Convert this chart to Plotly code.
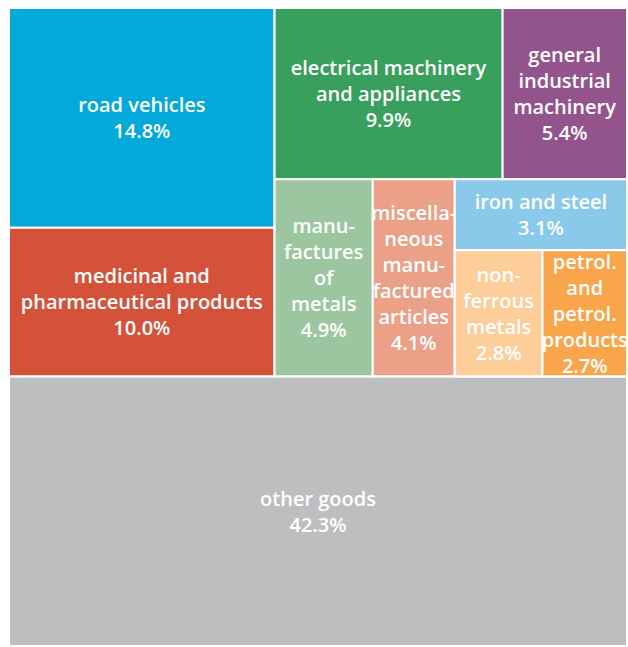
import plotly.graph_objects as go

# hierarchy (intermediate groups only shape the layout)
ids = ["all", "top", "other", "left", "right", "road", "med", "rtop", "rbot",
       "elec", "gen", "manu", "misc", "small", "iron", "lower", "nonf", "petrol"]
parents = ["", "all", "all", "top", "top", "left", "left", "right", "right",
           "rtop", "rtop", "rbot", "rbot", "rbot", "small", "small", "lower", "lower"]
labels = ["", "", "other goods", "", "", "road vehicles",
          "medicinal and<br>pharmaceutical products", "", "",
          "electrical machinery<br>and appliances", "general<br>industrial<br>machinery",
          "manu-<br>factures<br>of<br>metals", "miscella-<br>neous<br>manu-<br>factured<br>articles",
          "", "iron and steel", "", "non-<br>ferrous<br>metals",
          "petrol.<br>and<br>petrol.<br>products"]
values = [0, 0, 42.3, 0, 0, 14.8, 10.0, 0, 0, 9.9, 5.4, 4.9, 4.1, 0, 3.1, 0, 2.8, 2.7]
colors = ["#FFFFFF", "#FFFFFF", "#BDBEC0", "#FFFFFF", "#FFFFFF", "#02A9D9", "#D4523A",
          "#FFFFFF", "#FFFFFF", "#38A05C", "#93548E", "#9CC69F", "#EAA187", "#FFFFFF",
          "#8AC9E9", "#FFFFFF", "#FDCD9A", "#F8A54B"]

texts = [f"{l}<br>{v:.1f}%" if v > 0 else "" for l, v in zip(labels, values)]

fig = go.Figure(go.Treemap(
    ids=ids, parents=parents, labels=ids, values=values,
    branchvalues="remainder", sort=False,
    text=texts, texttemplate="%{text}", textposition="middle center",
    textfont=dict(family="Open Sans", size=20, color="white", weight=600),
    marker=dict(colors=colors, line=dict(color="white", width=2),
                pad=dict(t=0, l=0, r=0, b=0)),
    tiling=dict(packing="dice-slice", pad=0),
    pathbar=dict(visible=False),
    hoverinfo="skip",
))
fig.update_layout(width=628, height=647, margin=dict(l=9, r=1, t=8, b=1),
                  paper_bgcolor="white",
                  uniformtext=dict(minsize=20, mode="show"))
fig.write_html("out.html", config={"displayModeBar": False},
               post_script="document.body.style.margin='0';document.body.style.overflow='hidden';")
